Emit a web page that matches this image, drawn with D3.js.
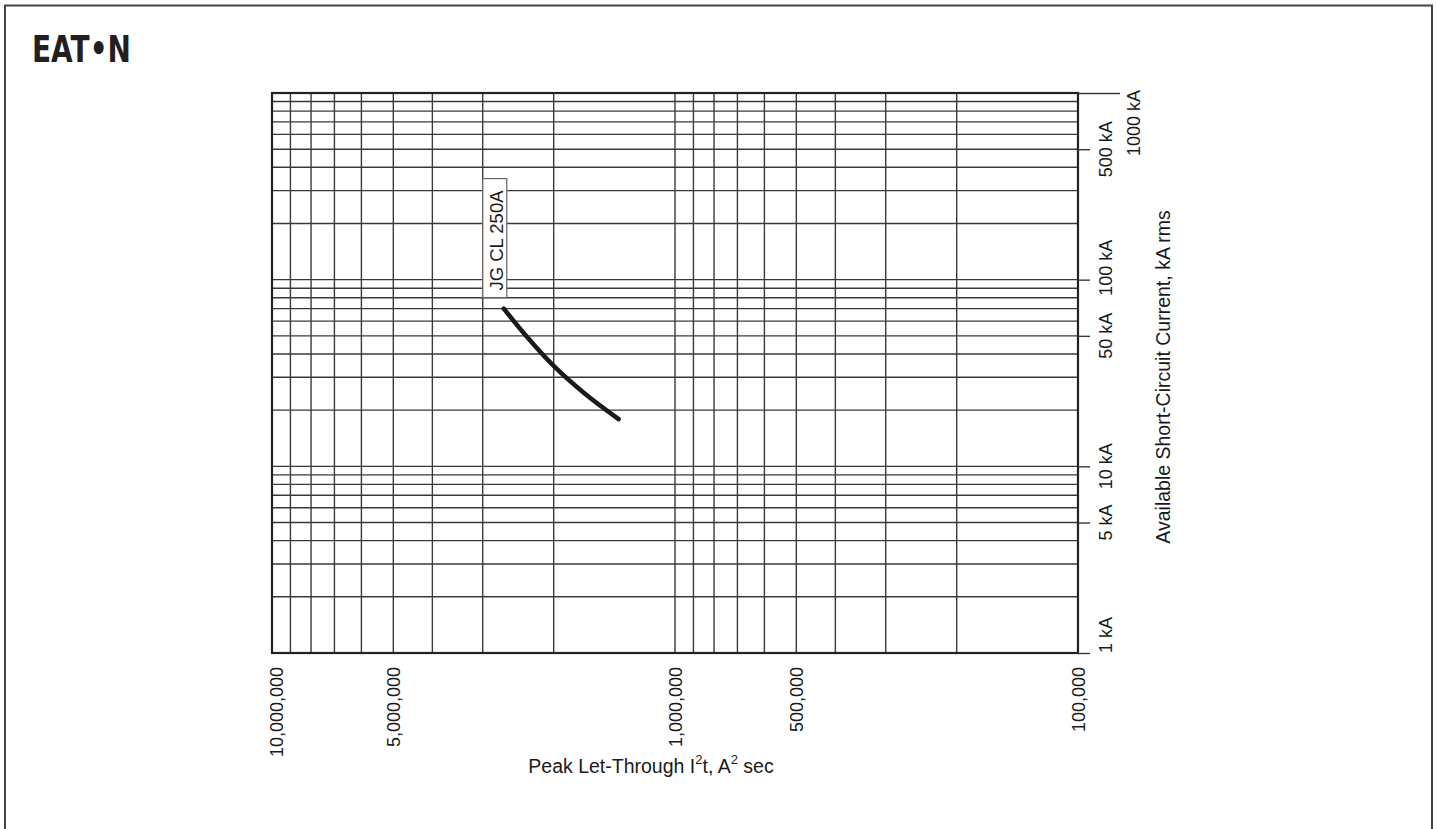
<!DOCTYPE html>
<html>
<head>
<meta charset="utf-8">
<script src="https://cdn.jsdelivr.net/npm/d3@7"></script>
<style>
  body { margin: 0; background: #fff; }
  svg { display: block; font-family: "Liberation Sans", Arial, sans-serif; }
</style>
</head>
<body>
<script>
// canvas size
const w = 1437;
const h = 829;

// plot box
const plotL = 272, plotR = 1078, plotT = 93, plotB = 653;

// curve JG CL 250A: peak let-through I2t vs available current
const curveName = "JG CL 250A";
const i2t = [2660000, 2360000, 2000000, 1670000, 1380000];
const kA = [70, 51, 34.5, 24.4, 17.9];

// labelled ticks
const xTickVals = [10000000, 5000000, 1000000, 500000, 100000];
const xTickLabels = ["10,000,000", "5,000,000", "1,000,000", "500,000", "100,000"];
const yTickVals = [1, 5, 10, 50, 100, 500, 1000];
const yTickLabels = ["1 kA", "5 kA", "10 kA", "50 kA", "100 kA", "500 kA", "1000 kA"];

const ink = "#1a1a1a";
const grid = "#3a3a3a";

const svg = d3.select("body").append("svg").attr("width", w).attr("height", h);

// outer frame (no bottom edge)
svg.append("path")
  .attr("d", `M5,${h} V5.5 H1432 V${h}`)
  .attr("fill", "none")
  .attr("stroke", "#444")
  .attr("stroke-width", 2);

// logo
svg.append("text")
  .text("EAT•N")
  .attr("x", 32)
  .attr("y", 62)
  .attr("font-size", 37)
  .attr("font-weight", 900)
  .attr("font-family", "'DejaVu Sans', sans-serif")
  .attr("textLength", 99)
  .attr("lengthAdjust", "spacingAndGlyphs")
  .attr("fill", "#231f20");

// scales (x runs from high to low)
const x = d3.scaleLog().domain([1e7, 1e5]).range([plotL, plotR]);
const y = d3.scaleLog().domain([1, 1000]).range([plotB, plotT]);

// grid lines
svg.append("g")
  .selectAll("line")
  .data(x.ticks())
  .enter()
  .append("line")
  .attr("x1", (d) => x(d))
  .attr("x2", (d) => x(d))
  .attr("y1", plotT)
  .attr("y2", plotB)
  .attr("stroke", grid)
  .attr("stroke-width", 1.4);

svg.append("g")
  .selectAll("line")
  .data(y.ticks())
  .enter()
  .append("line")
  .attr("x1", plotL)
  .attr("x2", plotR)
  .attr("y1", (d) => y(d))
  .attr("y2", (d) => y(d))
  .attr("stroke", grid)
  .attr("stroke-width", 1.4);

// plot border
svg.append("rect")
  .attr("x", plotL)
  .attr("y", plotT)
  .attr("width", plotR - plotL)
  .attr("height", plotB - plotT)
  .attr("fill", "none")
  .attr("stroke", "#222")
  .attr("stroke-width", 2.2);

// right axis ticks
const yAxis = svg.append("g")
  .attr("transform", `translate(${plotR},0)`)
  .call(d3.axisRight(y).tickValues(yTickVals).tickSize(12).tickFormat(""));
yAxis.select(".domain").remove();
yAxis.selectAll(".tick line")
  .attr("stroke", grid)
  .attr("stroke-width", 1.4)
  .attr("x2", (d, i) => (i === yTickVals.length - 1 ? 42 : 12));

// right axis labels (rotated)
svg.append("g")
  .selectAll("text")
  .data(yTickVals)
  .enter()
  .append("text")
  .text((d, i) => yTickLabels[i])
  .attr("transform", (d, i) => {
    const last = i === yTickVals.length - 1;
    const px = last ? 1140 : 1112;
    let py = y(d);
    if (last) py -= 3;
    if (d === 100) py -= 12; // nudged up to clear the 50 kA label
    return `translate(${px},${py}) rotate(-90)`;
  })
  .attr("text-anchor", (d, i) => (i === 0 ? "start" : i === yTickVals.length - 1 ? "end" : "middle"))
  .attr("font-size", 18)
  .attr("fill", ink);

// bottom axis labels (rotated)
svg.append("g")
  .selectAll("text")
  .data(xTickVals)
  .enter()
  .append("text")
  .text((d, i) => xTickLabels[i])
  .attr("transform", (d, i) => `translate(${x(d) + (i === 0 ? 11 : 6.5)},${plotB + 14}) rotate(-90)`)
  .attr("text-anchor", "end")
  .attr("font-size", 18)
  .attr("fill", ink);

// axis titles
const xt = svg.append("text")
  .attr("x", 651)
  .attr("y", 773)
  .attr("text-anchor", "middle")
  .attr("font-size", 19.5)
  .attr("fill", ink);
xt.append("tspan").text("Peak Let-Through I");
xt.append("tspan").text("2").attr("font-size", 13).attr("dy", -9);
xt.append("tspan").text("t, A").attr("dy", 9);
xt.append("tspan").text("2").attr("font-size", 13).attr("dy", -9);
xt.append("tspan").text(" sec").attr("dy", 9);

svg.append("text")
  .text("Available Short-Circuit Current, kA rms")
  .attr("transform", "translate(1170,377) rotate(-90)")
  .attr("text-anchor", "middle")
  .attr("font-size", 19.5)
  .attr("fill", ink);

// the curve
const line = d3.line()
  .x((d) => x(d[0]))
  .y((d) => y(d[1]))
  .curve(d3.curveCatmullRom);

svg.append("path")
  .datum(i2t.map((v, i) => [v, kA[i]]))
  .attr("d", line)
  .attr("fill", "none")
  .attr("stroke", ink)
  .attr("stroke-width", 4.5)
  .attr("stroke-linecap", "round");

// curve label in a box, placed above the start of the curve
const ax = x(i2t[0]);
const ay = y(kA[0]);
svg.append("rect")
  .attr("x", ax - 21)
  .attr("y", ay - 130)
  .attr("width", 24)
  .attr("height", 119)
  .attr("fill", "#fff")
  .attr("stroke", "#666")
  .attr("stroke-width", 1.2);
svg.append("text")
  .text(curveName)
  .attr("transform", `translate(${ax - 1},${ay - 18}) rotate(-90)`)
  .attr("font-size", 18.5)
  .attr("fill", ink);
</script>
</body>
</html>
